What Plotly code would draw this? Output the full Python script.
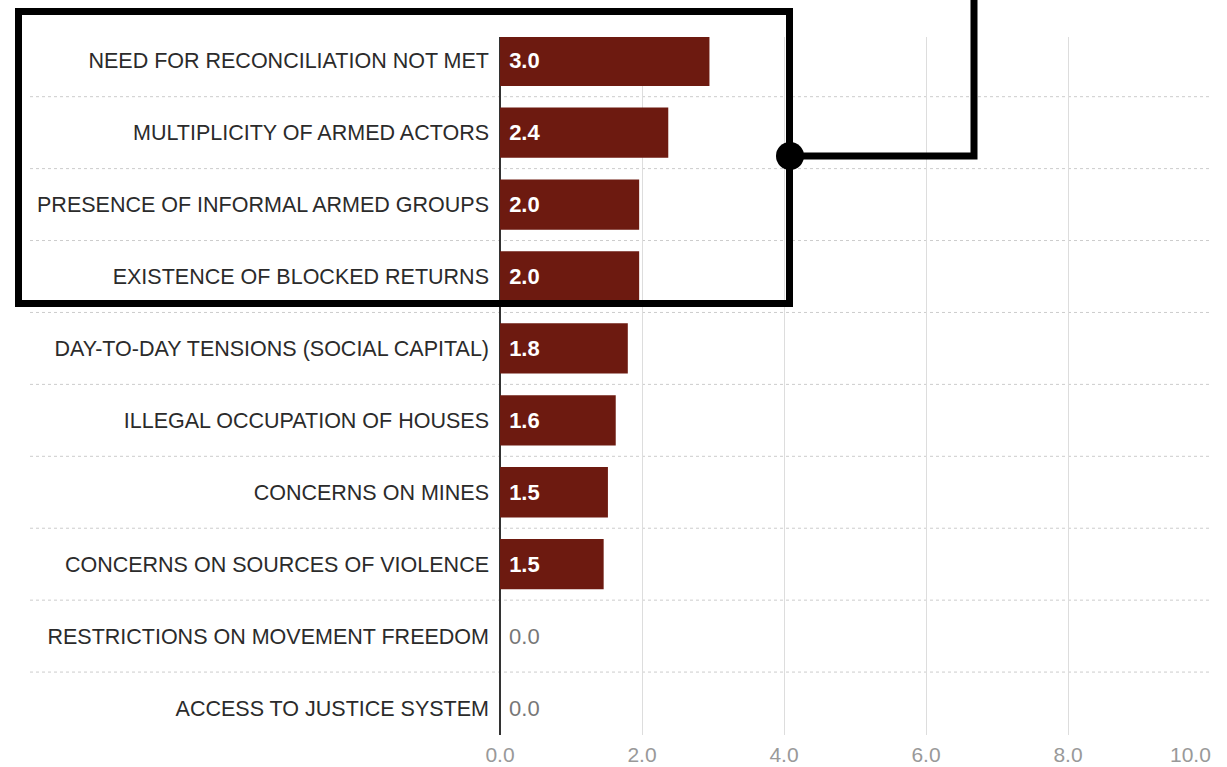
import plotly.graph_objects as go

categories = [
    "NEED FOR RECONCILIATION NOT MET",
    "MULTIPLICITY OF ARMED ACTORS",
    "PRESENCE OF INFORMAL ARMED GROUPS",
    "EXISTENCE OF BLOCKED RETURNS",
    "DAY-TO-DAY TENSIONS (SOCIAL CAPITAL)",
    "ILLEGAL OCCUPATION OF HOUSES",
    "CONCERNS ON MINES",
    "CONCERNS ON SOURCES OF VIOLENCE",
    "RESTRICTIONS ON MOVEMENT FREEDOM",
    "ACCESS TO JUSTICE SYSTEM",
]
values = [2.95, 2.37, 1.96, 1.96, 1.8, 1.63, 1.52, 1.46, 0.0, 0.0]
value_labels = ["3.0", "2.4", "2.0", "2.0", "1.8", "1.6", "1.5", "1.5", "0.0", "0.0"]
x_ticks = [0, 2, 4, 6, 8, 10]
x_tick_labels = ["0.0", "2.0", "4.0", "6.0", "8.0", "10.0"]

W, H = 1227, 767
L, R, T, B = 500, 17, 37, 32
pw, ph = W - L - R, H - T - B

def px(x):
    return (x - L) / pw

def py(y):
    return (H - B - y) / ph

FONT = "Liberation Sans, Arial, sans-serif"
bar_color = "#6d1a10"
positions = ["inside" if v > 0 else "outside" for v in values]
text_colors = ["#ffffff" if v > 0 else "#777777" for v in values]
texts = ["&nbsp;<b>%s</b>" % t if v > 0 else "&nbsp;" + t for t, v in zip(value_labels, values)]

fig = go.Figure(
    go.Bar(
        y=categories,
        x=values,
        orientation="h",
        marker=dict(color=bar_color, line=dict(width=0)),
        width=0.7,
        text=texts,
        textposition=positions,
        insidetextanchor="start",
        textfont=dict(color=text_colors, size=22, family=FONT),
        cliponaxis=False,
        hoverinfo="skip",
    )
)

shapes = []
for i in range(len(categories) - 1):
    shapes.append(dict(
        type="line", xref="paper", yref="y",
        x0=px(30), x1=px(1212), y0=i + 0.5, y1=i + 0.5,
        line=dict(color="#cccccc", width=1, dash="dot"), layer="below",
    ))
shapes.append(dict(
    type="rect", xref="paper", yref="paper",
    x0=px(18.5), x1=px(789.5), y0=py(11.5), y1=py(303.5),
    line=dict(color="#000000", width=7), layer="above",
))
shapes.append(dict(
    type="path", xref="paper", yref="paper",
    path=f"M {px(790)} {py(156)} L {px(974)} {py(156)} L {px(974)} {py(-5)}",
    line=dict(color="#000000", width=7), layer="above",
))
r = 14
shapes.append(dict(
    type="circle", xref="paper", yref="paper",
    x0=px(790 - r), x1=px(790 + r), y0=py(156 + r), y1=py(156 - r),
    fillcolor="#000000", line=dict(color="#000000", width=0), layer="above",
))

annotations = [dict(
    x=x_ticks[-1], y=0, xref="x", yref="paper",
    text=x_tick_labels[-1], showarrow=False,
    xanchor="right", yanchor="top", xshift=3, yshift=-6,
    font=dict(size=21, color="#999999", family=FONT),
)]

fig.update_layout(
    width=W, height=H,
    margin=dict(l=L, r=R, t=T, b=B, pad=0, autoexpand=False),
    paper_bgcolor="#ffffff",
    plot_bgcolor="#ffffff",
    showlegend=False,
    font=dict(family=FONT, color="#333333"),
    shapes=shapes,
    annotations=annotations,
    xaxis=dict(
        range=[0, 10],
        tickvals=x_ticks,
        ticktext=x_tick_labels[:-1] + [""],
        showgrid=True,
        gridcolor="#dddddd",
        gridwidth=1,
        zeroline=True,
        zerolinecolor="#333333",
        zerolinewidth=2,
        showline=False,
        tickfont=dict(size=21, color="#999999", family=FONT),
        ticks="",
        ticklabelstandoff=5,
        automargin=False,
        fixedrange=True,
    ),
    yaxis=dict(
        categoryorder="array",
        categoryarray=categories,
        range=[9.375, -0.33],
        showgrid=False,
        zeroline=False,
        showline=False,
        ticks="",
        tickfont=dict(size=21.5, color="#2b2b2b", family=FONT),
        ticklabelstandoff=10,
        automargin=False,
        fixedrange=True,
    ),
)

fig.write_html(
    "out.html",
    config={"displayModeBar": False},
    post_script="document.body.style.margin='0px';document.body.style.overflow='hidden';",
)
